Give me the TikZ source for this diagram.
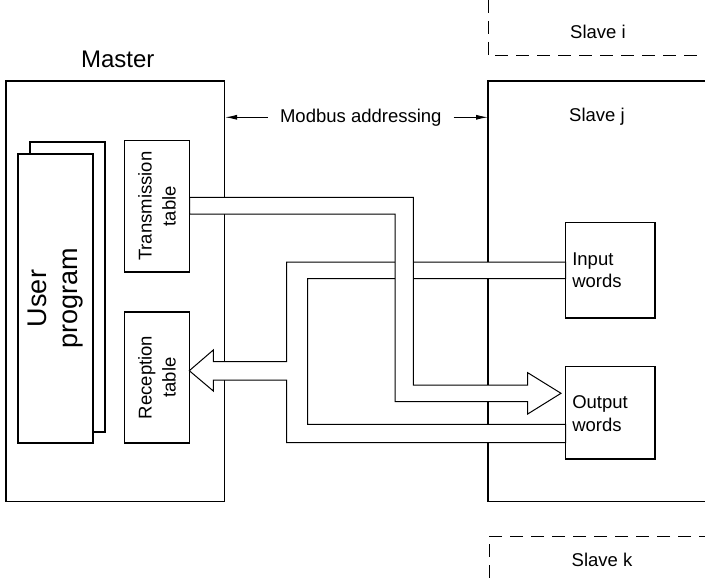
\documentclass[tikz,border=0pt]{standalone}
\usepackage{fontspec}
\setmainfont{Liberation Sans}
\usetikzlibrary{arrows.meta,positioning}
\tikzset{
  box/.style={draw,line width=1.1pt,fill=white,inner sep=0pt},
  lbl/.style={font=\fontsize{18.5}{22.5}\selectfont,inner sep=0pt},
  tablbl/.style={font=\fontsize{18.5}{24}\selectfont,inner sep=0pt},
  pipe/.style={draw,line width=1pt,fill=white,line join=miter},
  slaveline/.style={line width=1.1pt},
  dashframe/.style={line width=1pt,dash pattern=on 13pt off 8pt},
  addr/.style={line width=1pt,-{Latex[length=12pt,width=5pt]}},
}
\begin{document}
\begin{tikzpicture}[x=1pt,y=-1pt]
  \useasboundingbox (0,0) rectangle (705,586);
  % master
  \node[box,minimum width=218.5pt,minimum height=420.5pt] (master) at (115.25,291.25) {};
  \node[inner sep=0pt,font=\fontsize{24}{28}\selectfont,anchor=base] (mlabel) at (117.8,67.7) {Master};
  \node[box,minimum width=75pt,minimum height=290pt] (usrback) at (67.5,287) {};
  \node[box,rotate=90,minimum width=289pt,minimum height=75pt,align=center,
    font=\fontsize{27}{31}\selectfont] (usrprog) at (55.5,298.5) {User\\program};
  \node[box,tablbl,rotate=90,minimum width=131.3pt,minimum height=65pt,align=center] (txtab) at (157,206.3) {Transmission\\table};
  \node[box,tablbl,rotate=90,minimum width=131pt,minimum height=65pt,align=center] (rxtab) at (157,377.5) {Reception\\table};
  % slaves
  \coordinate (sj) at (488,81);
  \draw[slaveline] (712,81) -- (sj) -- (488,501.5) -- (712,501.5);
  \draw[dashframe] (488,0) -- (488,55.7) -- (712,55.7);
  \draw[dashframe] (712,536) -- (489,536) -- (489,590);
  \node[lbl,anchor=base] (slavei) at (598,38.5) {Slave i};
  \node[lbl,anchor=base] (slavej) at (597,121.5) {Slave j};
  \node[lbl,anchor=base] (slavek) at (602,566.7) {Slave k};
  \node[box,minimum width=89.3pt,minimum height=95.3pt] (inwords) at (610.3,270.3) {};
  \node[box,minimum width=89.3pt,minimum height=92.3pt] (outwords) at (610.3,412.8) {};
  \node[lbl,align=left,right=7pt of inwords.west] (intext) {Input\\words};
  \node[lbl,align=left,right=7pt of outwords.west,yshift=-1pt] (outtext) {Output\\words};
  % addressing
  \node[lbl,inner xsep=12pt] (modbus) at (360.8,117.3) {Modbus addressing};
  \draw[addr] (modbus.west) -- (modbus.west -| master.east);
  \draw[addr] (modbus.east) -- (modbus.east -| sj);
  % reception pipe
  \draw[pipe] (565.7,262) -- (286.7,262) -- (286.7,361.7) -- (213.3,361.7) -- (213.3,350)
    -- (189.3,370.7) -- (213.3,391) -- (213.3,380) -- (286.7,380) -- (286.7,442.7)
    -- (565.7,442.7) -- (565.7,424.3) -- (307.7,424.3) -- (307.7,278.7) -- (565.7,278.7) -- cycle;
  % transmission pipe
  \draw[pipe] (189.5,197.3) -- (413.3,197.3) -- (413.3,385) -- (527.7,385) -- (527.7,372.7)
    -- (561,393.3) -- (527.7,414) -- (527.7,401.7) -- (395,401.7) -- (395,214) -- (189.5,214) -- cycle;
\end{tikzpicture}
\end{document}
